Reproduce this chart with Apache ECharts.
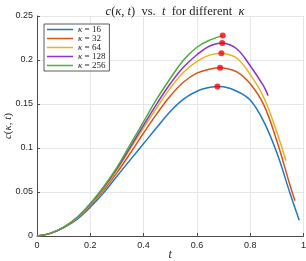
<!DOCTYPE html>
<html>
<head>
<meta charset="utf-8">
<script src="https://cdn.jsdelivr.net/npm/echarts@6/dist/echarts.min.js"></script>
<style>
html,body{margin:0;padding:0;background:#fff;}
#c{width:306px;height:261px;}
</style>
</head>
<body>
<div id="c"></div>
<script>
const kappas = [16, 32, 64, 128, 256];
const colors = ['#2079c5', '#d95319', '#edb120', '#8e30d2', '#4cae3a'];

const t16 = [0,0.05,0.1,0.15,0.2,0.25,0.3,0.35,0.4,0.45,0.5,0.55,0.6,0.65,0.677,0.7,0.75,0.8,0.85,0.9,0.95,0.984];
const c16 = [0,0.003,0.0095,0.019,0.0326,0.049,0.068,0.0865,0.105,0.1235,0.1415,0.1555,0.1645,0.169,0.170,0.1695,0.1645,0.1545,0.1305,0.0945,0.048,0.018];

const t32 = [0,0.05,0.1,0.15,0.2,0.25,0.3,0.35,0.4,0.45,0.5,0.55,0.6,0.65,0.687,0.7,0.75,0.8,0.85,0.9,0.95,0.968];
const c32 = [0,0.003,0.0097,0.020,0.0345,0.052,0.072,0.094,0.117,0.139,0.159,0.175,0.185,0.1898,0.1913,0.191,0.1865,0.173,0.1495,0.108,0.057,0.040];

const t64 = [0,0.05,0.1,0.15,0.2,0.25,0.3,0.35,0.4,0.45,0.5,0.55,0.6,0.65,0.692,0.7,0.75,0.8,0.85,0.9,0.934];
const c64 = [0,0.003,0.0098,0.0205,0.0355,0.054,0.075,0.099,0.123,0.146,0.168,0.186,0.1985,0.2058,0.2076,0.2074,0.202,0.1835,0.158,0.118,0.0856];

const t128 = [0,0.05,0.1,0.15,0.2,0.25,0.3,0.35,0.4,0.45,0.5,0.55,0.6,0.65,0.695,0.7,0.75,0.8,0.85,0.867];
const c128 = [0,0.003,0.0099,0.021,0.0363,0.055,0.0765,0.101,0.126,0.1505,0.173,0.192,0.206,0.2162,0.2193,0.2192,0.2125,0.1935,0.1705,0.1595];

const t256 = [0,0.05,0.1,0.15,0.2,0.25,0.3,0.35,0.4,0.45,0.5,0.55,0.6,0.65,0.697];
const c256 = [0,0.003,0.010,0.021,0.037,0.056,0.078,0.104,0.130,0.156,0.179,0.200,0.2145,0.2228,0.2277];

const peakT = [0.677, 0.687, 0.692, 0.695, 0.697];
const peakC = [0.170, 0.1913, 0.2076, 0.2193, 0.2277];

const xTicks = ['0','0.2','0.4','0.6','0.8','1'];
const yTicks = ['0','0.05','0.1','0.15','0.2','0.25'];

const tList = [t16, t32, t64, t128, t256];
const cList = [c16, c32, c64, c128, c256];

const serif = 'Liberation Serif';
const sans = 'Liberation Sans';

const names = kappas.map(k => 'κ = ' + k);

const series = kappas.map((k, i) => ({
  name: names[i],
  type: 'line',
  data: tList[i].map((t, j) => [t, cList[i][j]]),
  smooth: 0.4,
  symbol: 'none',
  showSymbol: false,
  lineStyle: { color: colors[i], width: 1.5 },
  itemStyle: { color: colors[i] },
  z: 2
}));
series.push({
  name: 'peaks',
  type: 'scatter',
  data: peakT.map((t, i) => [t, peakC[i]]),
  symbol: 'circle',
  symbolSize: 6,
  itemStyle: { color: '#ff0000' },
  z: 5
});

const chart = echarts.init(document.getElementById('c'), null, { renderer: 'canvas' });
chart.setOption({
  animation: false,
  backgroundColor: '#fff',
  title: {
    text: '{i|c}{n|(}{i|κ}{n|, }{i|t}{n|)  vs.  }{i|t}{n|  for different  }{i|κ}',
    left: 170, top: 0, textAlign: 'center',
    textStyle: {
      fontWeight: 'normal',
      rich: {
        i: { fontFamily: serif, fontStyle: 'italic', fontWeight: 'normal', fontSize: 12.5, color: '#262626' },
        n: { fontFamily: serif, fontWeight: 'normal', fontSize: 12.5, color: '#262626' }
      }
    }
  },
  grid: { left: 37, right: 2.5, top: 16, bottom: 25, outerBoundsMode: 'none', containLabel: false },
  legend: {
    data: names,
    orient: 'vertical',
    left: 44, top: 24,
    padding: [1, 4, 1, 3],
    itemGap: 0,
    icon: 'rect',
    itemWidth: 26, itemHeight: 1.5,
    backgroundColor: '#fff',
    borderColor: '#333', borderWidth: 0.8,
    formatter: function (n) { return '{i|κ}{n| = ' + n.split('= ')[1] + '}'; },
    textStyle: {
      rich: {
        i: { fontFamily: serif, fontStyle: 'italic', fontSize: 9, color: '#262626', lineHeight: 10.3 },
        n: { fontFamily: serif, fontSize: 9, color: '#262626', lineHeight: 10.3 }
      }
    }
  },
  xAxis: {
    type: 'value', min: 0, max: 1, interval: 0.2,
    name: 't', nameLocation: 'middle', nameGap: 19, nameMoveOverlap: false,
    nameTextStyle: { fontFamily: serif, fontStyle: 'italic', fontSize: 12, color: '#262626', verticalAlign: 'middle' },
    axisLine: { lineStyle: { color: '#4d4d4d', width: 1 } },
    axisTick: { inside: true, length: 3, lineStyle: { color: '#4d4d4d' } },
    axisLabel: { fontFamily: sans, fontSize: 9, color: '#262626', margin: 5,
      formatter: function (v) { return xTicks[Math.round(v / 0.2)]; } },
    splitLine: { show: true, lineStyle: { color: '#e6e6e6', width: 1 } }
  },
  yAxis: {
    type: 'value', min: 0, max: 0.25, interval: 0.05,
    name: '{i|c}{n|(}{i|κ}{n|, }{i|t}{n|)}', nameLocation: 'middle', nameGap: 29, nameRotate: 90, nameMoveOverlap: false,
    nameTextStyle: { verticalAlign: 'middle', rich: {
      i: { fontFamily: serif, fontStyle: 'italic', fontSize: 11, color: '#262626' },
      n: { fontFamily: serif, fontSize: 11, color: '#262626' } } },
    axisLine: { show: true, lineStyle: { color: '#4d4d4d', width: 1 } },
    axisTick: { show: true, inside: true, length: 3, lineStyle: { color: '#4d4d4d' } },
    axisLabel: { fontFamily: sans, fontSize: 9, color: '#262626', margin: 4,
      formatter: function (v) { return yTicks[Math.round(v / 0.05)]; } },
    splitLine: { show: true, lineStyle: { color: '#e6e6e6', width: 1 } }
  },
  series: series
});
</script>
</body>
</html>
